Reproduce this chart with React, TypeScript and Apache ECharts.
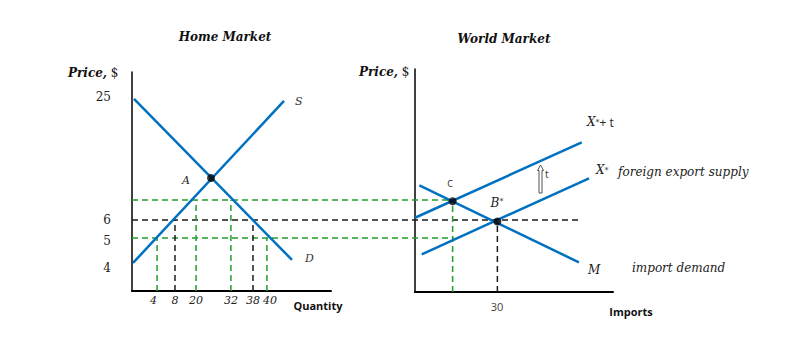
import React, { useEffect, useRef } from "react";
import * as echarts from "echarts";

// ---- Home market (diagram units 0..100 on each axis) ----
const homeDemand = [[1.0, 87.7], [80.4, 14.2]];
const homeSupply = [[0.5, 12.8], [76.4, 86.8]];
const pointA = [39.7, 51.6];
const priceWithTariff = 41.6;
const worldPrice = 32.4;
const foreignPrice = 24.2;
const priceTickValues = [88.6, 32.4, 22.8, 10.5];
const priceTickLabels = ["25", "6", "5", "4"];
const qtyTickValues = [12.6, 21.6, 32.2, 49.7, 60.8, 67.8];
const qtyTickLabels = ["4", "8", "20", "32", "38", "40"];
// extents of the long price lines (home units, reaching into the world panel)
const tariffLineEnd = 160.8;
const worldLineEnd = 224.6;
const foreignLineEnd = 161.8;

// ---- World market ----
const exportSupplyTariff = [[0, 33.3], [84.2, 67.1]];
const exportSupply = [[3.4, 16.9], [87.9, 51.0]];
const importDemand = [[2.2, 47.8], [82.8, 13.3]];
const pointC = [19.0, 40.7];
const pointB = [41.6, 31.6];
const importTickValues = [41.4];
const importTickLabels = ["30"];

const BLUE = "#0070C0";
const GREEN = "#1f9e2a";
const BLACK = "#1a1a1a";
const SERIF = "DejaVu Serif";
const SANS = "Open Sans";

function seg(name: string, data: number[][], color: string, dashed: boolean, xi: number) {
  return {
    type: "line",
    name,
    xAxisIndex: xi,
    yAxisIndex: xi,
    data,
    symbol: "none",
    silent: true,
    z: dashed ? 2 : 3,
    lineStyle: dashed
      ? { color, width: 1.5, type: [6, 4] }
      : { color, width: 2.5 },
  };
}

function dot(name: string, p: number[], xi: number) {
  return {
    type: "scatter",
    name,
    xAxisIndex: xi,
    yAxisIndex: xi,
    data: [p],
    symbol: "circle",
    symbolSize: 8,
    itemStyle: { color: "#000" },
    z: 5,
    silent: true,
  };
}

export default function App() {
  const ref = useRef<HTMLDivElement>(null);
  useEffect(() => {
    document.body.style.margin = "0";
    const chart = echarts.init(ref.current!, null, { renderer: "svg" });
    const axisLine = (w: number) => ({ show: true, onZero: false, lineStyle: { color: "#000", width: w } });
    const hidden = { show: false };
    const qtyStyle = (i: number) => (i === 0 ? "l" : i === qtyTickLabels.length - 1 ? "r" : "n");
    const qtyBase = { fontSize: 11, fontStyle: "italic", fontFamily: SERIF, color: "#222" };
    const option: any = {
      animation: false,
      backgroundColor: "#fff",
      grid: [
        { left: 132, top: 72, width: 199, height: 219 },
        { left: 415, top: 69, width: 198, height: 223 },
        // overlay sharing the home scale, wide enough to reach across both panels
        { left: 132, top: 72, width: 497.5, height: 219 },
      ],
      xAxis: [
        {
          type: "value", gridIndex: 0, min: 0, max: 100,
          axisLine: axisLine(2), axisTick: { show: false }, splitLine: { show: false },
          axisLabel: {
            customValues: qtyTickValues, margin: 4,
            formatter: (v: number) => {
              const i = qtyTickValues.indexOf(v);
              return i < 0 ? "" : `{${qtyStyle(i)}|${qtyTickLabels[i]}}`;
            },
            rich: {
              n: { ...qtyBase },
              l: { ...qtyBase, padding: [0, 7, 0, 0] },
              r: { ...qtyBase, padding: [0, 0, 0, 6] },
            },
          },
        },
        {
          type: "value", gridIndex: 1, min: 0, max: 100,
          axisLine: axisLine(2), axisTick: { show: false }, splitLine: { show: false },
          axisLabel: {
            customValues: importTickValues, margin: 9, fontSize: 11,
            fontFamily: SANS, color: "#444",
            formatter: (v: number) => importTickLabels[importTickValues.indexOf(v)] ?? "",
          },
        },
        {
          type: "value", gridIndex: 2, min: 0, max: 250,
          axisLine: hidden, axisTick: hidden, splitLine: hidden, axisLabel: hidden,
        },
      ],
      yAxis: [
        {
          type: "value", gridIndex: 0, min: 0, max: 100,
          axisLine: axisLine(1.5), axisTick: { show: false }, splitLine: { show: false },
          axisLabel: {
            customValues: priceTickValues, margin: 21, fontSize: 12,
            fontFamily: SERIF, color: "#222",
            formatter: (v: number) => priceTickLabels[priceTickValues.indexOf(v)] ?? "",
          },
        },
        {
          type: "value", gridIndex: 1, min: 0, max: 100,
          axisLine: axisLine(1.5), axisTick: { show: false }, splitLine: { show: false },
          axisLabel: { show: false },
        },
        {
          type: "value", gridIndex: 2, min: 0, max: 100,
          axisLine: hidden, axisTick: hidden, splitLine: hidden, axisLabel: hidden,
        },
      ],
      series: [
        // long horizontal price lines (overlay grid, same units as home)
        seg("tariff price", [[0, priceWithTariff], [tariffLineEnd, priceWithTariff]], GREEN, true, 2),
        seg("world price", [[0, worldPrice], [worldLineEnd, worldPrice]], BLACK, true, 2),
        seg("foreign price", [[0, foreignPrice], [foreignLineEnd, foreignPrice]], GREEN, true, 2),
        // home verticals
        seg("q4", [[qtyTickValues[0], 0], [qtyTickValues[0], foreignPrice]], GREEN, true, 0),
        seg("q8", [[qtyTickValues[1], 0], [qtyTickValues[1], worldPrice]], BLACK, true, 0),
        seg("q20", [[qtyTickValues[2], 0], [qtyTickValues[2], priceWithTariff]], GREEN, true, 0),
        seg("q32", [[qtyTickValues[3], 0], [qtyTickValues[3], priceWithTariff]], GREEN, true, 0),
        seg("q38", [[qtyTickValues[4], 0], [qtyTickValues[4], worldPrice]], BLACK, true, 0),
        seg("q40", [[qtyTickValues[5], 0], [qtyTickValues[5], foreignPrice]], GREEN, true, 0),
        // home curves
        seg("D", homeDemand, BLUE, false, 0),
        seg("S", homeSupply, BLUE, false, 0),
        dot("A", pointA, 0),
        // world verticals
        seg("imports tariff", [[pointC[0], 0], pointC], GREEN, true, 1),
        seg("imports free", [[pointB[0], 0], pointB], BLACK, true, 1),
        // world curves
        seg("X*+t", exportSupplyTariff, BLUE, false, 1),
        seg("X*", exportSupply, BLUE, false, 1),
        seg("M", importDemand, BLUE, false, 1),
        dot("C", pointC, 1),
        dot("B*", pointB, 1),
      ],
      graphic: [
        { type: "text", x: 225, y: 37, style: { text: "Home Market", font: `bold italic 12px ${SERIF}`, fill: "#111", align: "center", verticalAlign: "middle" } },
        { type: "text", x: 504, y: 39, style: { text: "World Market", font: `bold italic 12px ${SERIF}`, fill: "#111", align: "center", verticalAlign: "middle" } },
        {
          type: "text", x: 68, y: 73,
          style: {
            text: "{b|Price,}{r| $}", verticalAlign: "middle",
            rich: { b: { font: `bold italic 12px ${SERIF}`, fill: "#111" }, r: { font: `12px ${SERIF}`, fill: "#111" } },
          },
        },
        {
          type: "text", x: 359, y: 72,
          style: {
            text: "{b|Price,}{r| $}", verticalAlign: "middle",
            rich: { b: { font: `bold italic 12px ${SERIF}`, fill: "#111" }, r: { font: `12px ${SERIF}`, fill: "#111" } },
          },
        },
        { type: "text", x: 295, y: 101, style: { text: "S", font: `italic 11px ${SERIF}`, fill: "#333", verticalAlign: "middle" } },
        { type: "text", x: 305, y: 258, style: { text: "D", font: `italic 11px ${SERIF}`, fill: "#333", verticalAlign: "middle" } },
        { type: "text", x: 182, y: 180, style: { text: "A", font: `italic 11px ${SERIF}`, fill: "#222", verticalAlign: "middle" } },
        { type: "text", x: 318, y: 305, style: { text: "Quantity", font: `bold 11px ${SANS}`, fill: "#111", align: "center", verticalAlign: "middle" } },
        { type: "text", x: 631, y: 311, style: { text: "Imports", font: `bold 11px ${SANS}`, fill: "#111", align: "center", verticalAlign: "middle" } },
        { type: "text", x: 450, y: 183, style: { text: "C", font: `9px ${SANS}`, fill: "#222", align: "center", verticalAlign: "middle" } },
        {
          type: "text", x: 497, y: 203,
          style: {
            text: "{m|B}{s|*}", align: "center", verticalAlign: "middle",
            rich: { m: { font: `italic 12px ${SERIF}`, fill: "#222" }, s: { font: `8px ${SERIF}`, fill: "#222", verticalAlign: "top" } },
          },
        },
        {
          type: "text", x: 587, y: 122,
          style: {
            text: "{m|X}{s|*}{r|+ t}", verticalAlign: "middle",
            rich: { m: { font: `italic 12px ${SERIF}`, fill: "#222" }, s: { font: `8px ${SERIF}`, fill: "#222" }, r: { font: `12px ${SANS}`, fill: "#222" } },
          },
        },
        {
          type: "text", x: 596, y: 170,
          style: {
            text: "{m|X}{s|*}", verticalAlign: "middle",
            rich: { m: { font: `italic 12px ${SERIF}`, fill: "#222" }, s: { font: `8px ${SERIF}`, fill: "#222" } },
          },
        },
        { type: "text", x: 618, y: 172, style: { text: "foreign export supply", font: `italic 12px ${SERIF}`, fill: "#222", verticalAlign: "middle" } },
        { type: "text", x: 588, y: 270, style: { text: "M", font: `italic 12px ${SERIF}`, fill: "#222", verticalAlign: "middle" } },
        { type: "text", x: 632, y: 268, style: { text: "import demand", font: `italic 12px ${SERIF}`, fill: "#222", verticalAlign: "middle" } },
        {
          type: "polygon",
          shape: { points: [[540.5, 165], [543.5, 170.5], [542, 170.5], [542, 193], [539, 193], [539, 170.5], [537.5, 170.5]] },
          style: { fill: "#fff", stroke: "#555", lineWidth: 1 },
        },
        { type: "text", x: 545, y: 174, style: { text: "t", font: `10px ${SANS}`, fill: "#333", verticalAlign: "middle" } },
      ],
    };
    chart.setOption(option);
    return () => chart.dispose();
  }, []);
  return <div ref={ref} style={{ width: 785, height: 354 }} />;
}
